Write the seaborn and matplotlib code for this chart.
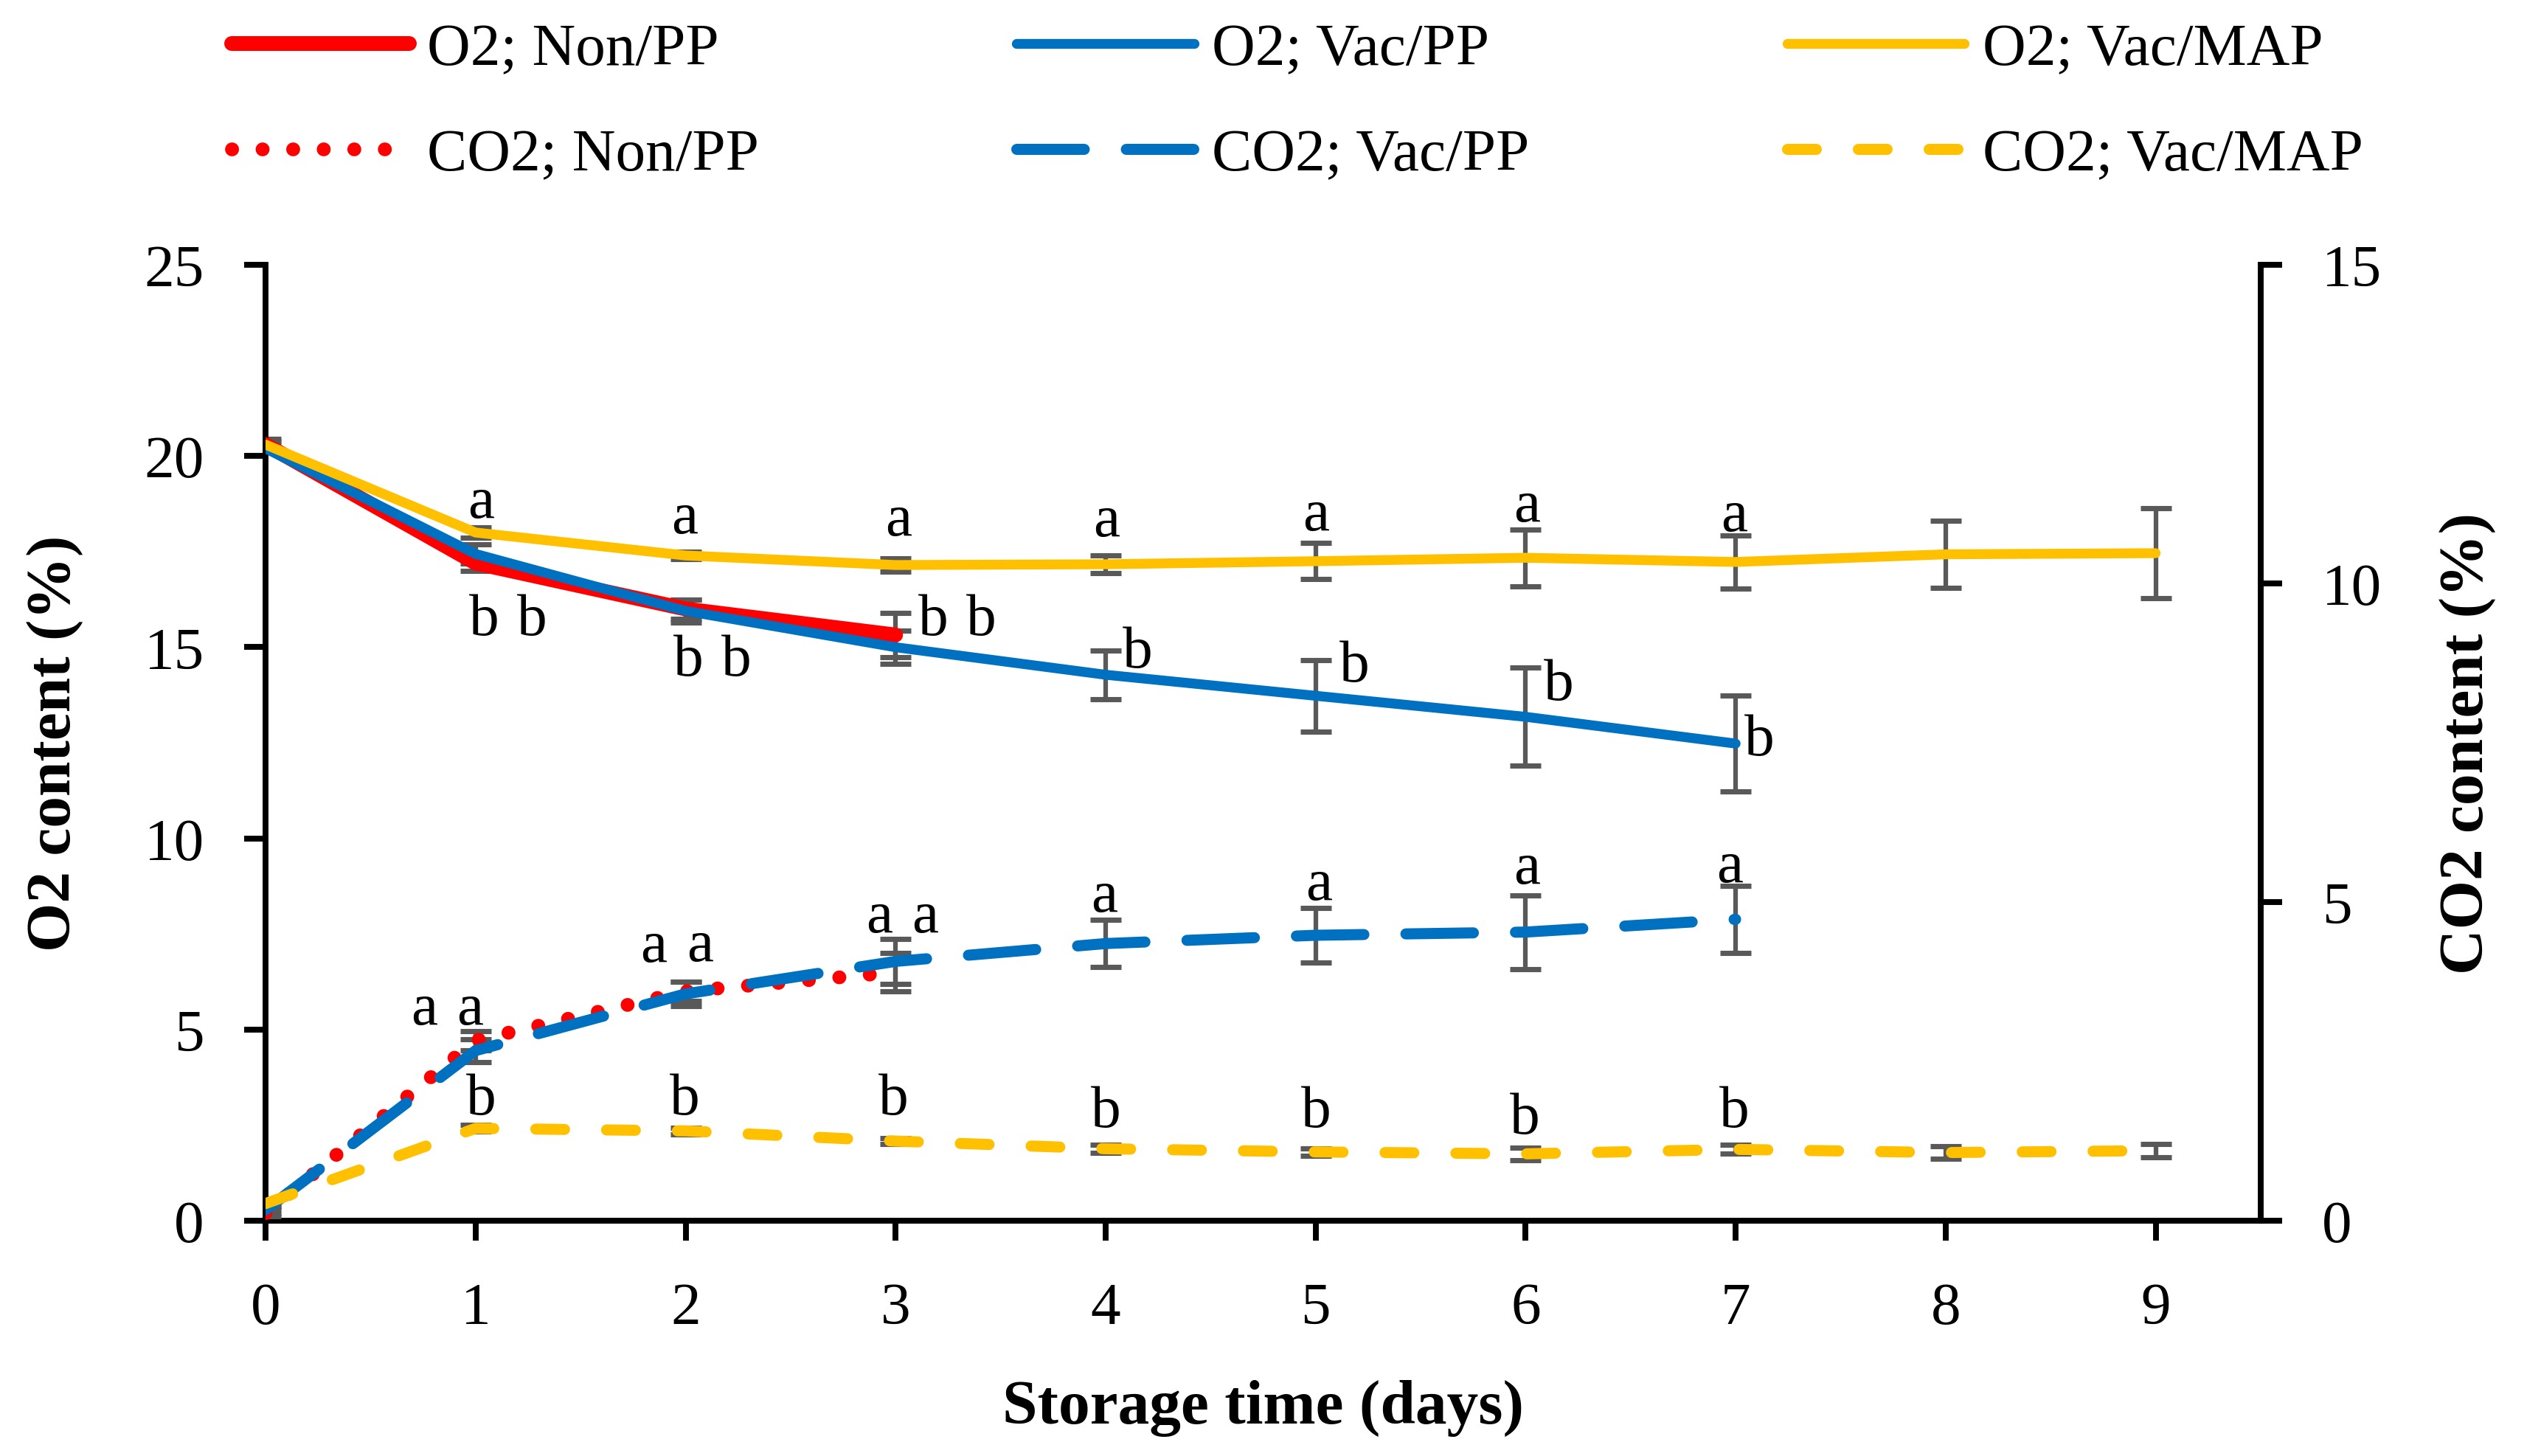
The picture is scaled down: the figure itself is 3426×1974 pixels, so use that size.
import numpy as np
import pandas as pd
import seaborn as sns
import matplotlib.pyplot as plt

# Dias de armazenamento
days = [0, 1, 2, 3, 4, 5, 6, 7, 8, 9]

# O2 (%) - eixo esquerdo
o2_non_pp = [20.3, 17.2, 16.0, 15.32]
o2_non_pp_err = [0.15, 0.2, 0.25, 0.58]
o2_vac_pp = [20.2, 17.44, 15.95, 15.0, 14.28, 13.73, 13.18, 12.48]
o2_vac_pp_err = [0.1, 0.25, 0.3, 0.43, 0.64, 0.93, 1.28, 1.26]
o2_vac_map = [20.3, 18.0, 17.4, 17.15, 17.17, 17.25, 17.34, 17.23, 17.43, 17.46]
o2_vac_map_err = [0.1, 0.13, 0.1, 0.18, 0.24, 0.47, 0.74, 0.70, 0.87, 1.18]

# CO2 (%) - eixo direito
co2_non_pp = [0.12, 2.83, 3.6, 3.9]
co2_non_pp_err = [0.05, 0.15, 0.15, 0.3]
co2_vac_pp = [0.17, 2.67, 3.56, 4.07, 4.35, 4.48, 4.53, 4.73]
co2_vac_pp_err = [0.05, 0.18, 0.19, 0.35, 0.37, 0.43, 0.58, 0.53]
co2_vac_map = [0.27, 1.45, 1.41, 1.25, 1.13, 1.08, 1.05, 1.12, 1.07, 1.10]
co2_vac_map_err = [0.05, 0.05, 0.05, 0.05, 0.06, 0.06, 0.1, 0.07, 0.1, 0.1]

# letras de significancia (dias 1..n) e deslocamento em pontos
o2_non_pp_letters = ['b', 'b', 'b']
o2_non_pp_dx = [2.8, 1.0, 12.2]
o2_non_pp_dy = [-18.5, -16.8, 4.9]
o2_vac_pp_letters = ['b'] * 7
o2_vac_pp_dx = [18.4, 16.6, 27.8, 10.5, 12.6, 10.8, 7.7]
o2_vac_pp_dy = [-21.5, -16.2, 8.8, 7.3, 9.5, 10.4, 1.2]
o2_vac_map_letters = ['a'] * 7
o2_vac_map_dx = [1.8, -0.4, 0.9, 0.3, 0.2, 0.4, -0.4]
o2_vac_map_dy = [9.8, 12.2, 14.4, 14.0, 15.0, 16.7, 14.9]
co2_non_pp_letters = ['a', 'a', 'a']
co2_non_pp_dx = [-16.7, -10.5, -5.3]
co2_non_pp_dy = [10.0, 14.6, 17.8]
co2_vac_pp_letters = ['a'] * 7
co2_vac_pp_dx = [-1.8, 4.8, 9.6, -0.5, 1.0, 0.4, -2.0]
co2_vac_pp_dy = [13.3, 15.5, 14.3, 15.2, 16.5, 20.7, 17.0]
co2_vac_map_letters = ['b'] * 7
co2_vac_map_dx = [1.8, -0.4, -0.8, 0.1, 0.1, -0.2, -0.5]
co2_vac_map_dy = [9.4, 10.3, 13.6, 12.0, 13.0, 11.4, 12.2]

RED, BLUE, YELLOW = '#FF0000', '#0070C0', '#FFC000'
ERR = '#595959'
FS = 19.5

sns.set_theme(style="white")
plt.rcParams['font.family'] = ['Liberation Serif', 'DejaVu Serif']
plt.rcParams['text.color'] = 'black'
plt.rcParams['axes.labelcolor'] = 'black'
plt.rcParams['xtick.color'] = 'black'
plt.rcParams['ytick.color'] = 'black'

fig = plt.figure(figsize=(11.42, 6.583), dpi=300)
ax = fig.add_axes([0.1051, 0.1615, 0.7895, 0.6562])
ax2 = ax.twinx()

series = [
    # eixo, valores, erros, cor, largura, estilo, rotulo, letras, dx, dy
    (ax, o2_non_pp, o2_non_pp_err, RED, 4.8, '-', 'O2; Non/PP', o2_non_pp_letters, o2_non_pp_dx, o2_non_pp_dy),
    (ax2, co2_non_pp, co2_non_pp_err, RED, 4.5, (0, (0.01, 2.2)), 'CO2; Non/PP', co2_non_pp_letters, co2_non_pp_dx, co2_non_pp_dy),
    (ax, o2_vac_pp, o2_vac_pp_err, BLUE, 3.2, '-', 'O2; Vac/PP', o2_vac_pp_letters, o2_vac_pp_dx, o2_vac_pp_dy),
    (ax2, co2_vac_pp, co2_vac_pp_err, BLUE, 3.6, (0, (6.1, 3.8)), 'CO2; Vac/PP', co2_vac_pp_letters, co2_vac_pp_dx, co2_vac_pp_dy),
    (ax, o2_vac_map, o2_vac_map_err, YELLOW, 3.2, '-', 'O2; Vac/MAP', o2_vac_map_letters, o2_vac_map_dx, o2_vac_map_dy),
    (ax2, co2_vac_map, co2_vac_map_err, YELLOW, 3.6, (0, (2.6, 3.8)), 'CO2; Vac/MAP', co2_vac_map_letters, co2_vac_map_dx, co2_vac_map_dy),
]

handles = []
for a, vals, errs, color, lw, ls, label, letters, dx, dy in series:
    x = days[:len(vals)]
    a.errorbar(x, vals, yerr=errs, fmt='none', ecolor=ERR, elinewidth=1.5,
               capsize=5, capthick=1.7, zorder=1)
    sns.lineplot(x=x, y=vals, ax=a, color=color, linewidth=lw, linestyle=ls,
                 dash_capstyle='round', solid_capstyle='round',
                 errorbar=None, legend=False, zorder=3)
    line = a.get_lines()[-1]
    line.set_label(label)
    handles.append(line)
    for i, (txt, ox, oy) in enumerate(zip(letters, dx, dy)):
        a.annotate(txt, (x[i + 1], vals[i + 1]), xytext=(ox, oy),
                   textcoords='offset points', ha='center', va='center',
                   fontsize=FS, zorder=5)

# eixos
ax.set_xlim(0, 9.5)
ax.set_ylim(0, 25)
ax2.set_ylim(0, 15)
ax.set_xticks(days)
ax.set_yticks([0, 5, 10, 15, 20, 25])
ax2.set_yticks([0, 5, 10, 15])

for s in ['top', 'right']:
    ax.spines[s].set_visible(False)
for s in ['top', 'left', 'bottom']:
    ax2.spines[s].set_visible(False)
for s in ['left', 'bottom']:
    ax.spines[s].set_color('black')
    ax.spines[s].set_linewidth(1.9)
ax2.spines['right'].set_color('black')
ax2.spines['right'].set_linewidth(1.9)

ax.tick_params(axis='y', left=True, direction='out', length=7, width=1.9,
               labelsize=FS, pad=13)
ax.tick_params(axis='x', bottom=True, direction='out', length=6.5, width=1.9,
               labelsize=FS, pad=13.5)
ax2.tick_params(axis='y', right=True, left=False, direction='out', length=7,
                width=1.9, labelsize=FS, pad=13)

ax.set_xlabel('Storage time (days)', fontsize=20.5, fontweight='bold')
ax.set_ylabel('O2 content (%)', fontsize=20.5, fontweight='bold')
ax2.set_ylabel('CO2 content (%)', fontsize=20.5, fontweight='bold')
ax.xaxis.set_label_coords(0.5, -0.166)
ax.yaxis.set_label_coords(-0.0913, 0.5)
ax2.yaxis.set_label_coords(1.0895, 0.5)

fig.legend(handles=handles, labels=[h.get_label() for h in handles], ncol=3,
           loc='upper left', bbox_to_anchor=(0.0917, 0.984), frameon=False,
           fontsize=FS, handlelength=2.96, handletextpad=0.3,
           columnspacing=4.3, labelspacing=0.85, borderaxespad=0, borderpad=0)

plt.savefig('out.png', dpi=300)
